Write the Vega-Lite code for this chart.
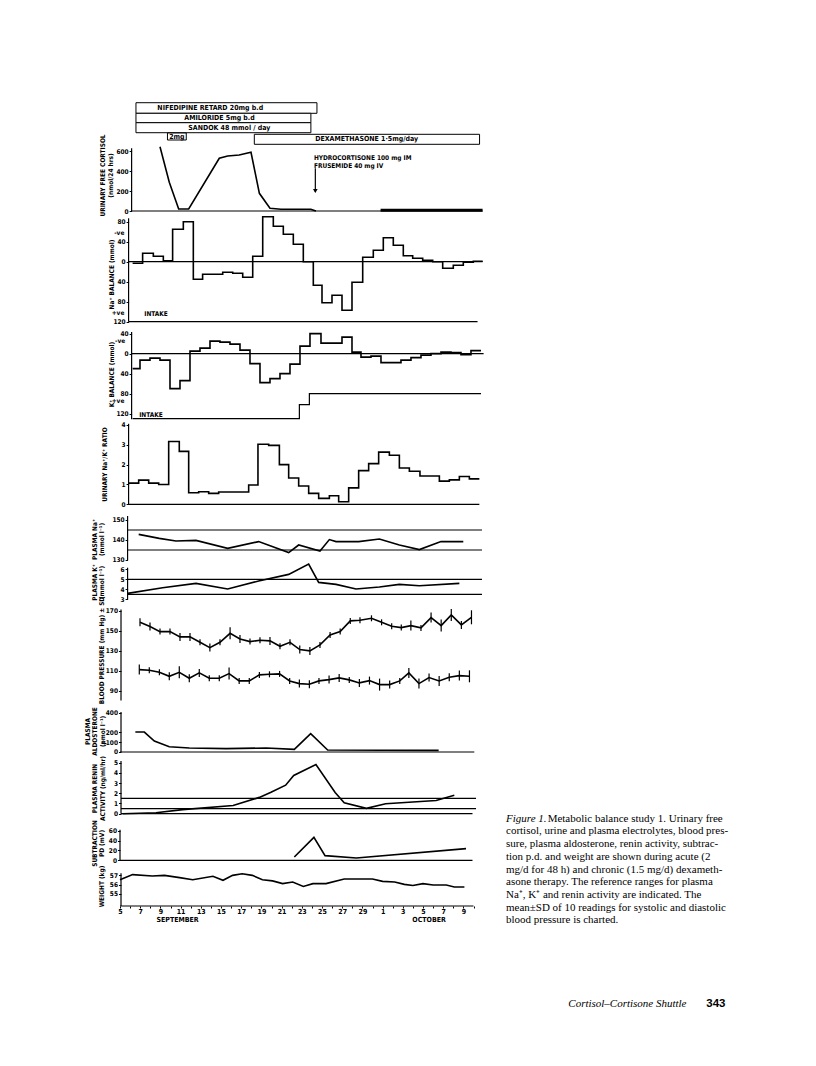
{
"$schema": "https://vega.github.io/schema/vega-lite/v6.json",
"background": "white",
"padding": {"left": 84, "top": 102, "right": 5, "bottom": 5},
"spacing": 0,
"bounds": "flush",
"datasets": {
"drug": [
 {"k":"box","d":6.58,"d2":24.5,"v":0.07,"v2":1.13},
 {"k":"box","d":6.58,"d2":23.9,"v":1.13,"v2":2.07},
 {"k":"box","d":6.58,"d2":23.9,"v":2.07,"v2":3.07},
 {"k":"box","d":9.7,"d2":11.56,"v":3.1,"v2":3.8},
 {"k":"box","d":18.3,"d2":40.6,"v":3.23,"v2":4.23},
 {"k":"t","d":8.7,"v":0.6,"t":"NIFEDIPINE RETARD 20mg b.d"},
 {"k":"t","d":11.37,"v":1.6,"t":"AMILORIDE 5mg b.d"},
 {"k":"t","d":11.76,"v":2.57,"t":"SANDOK 48 mmol / day"},
 {"k":"tc","d":10.63,"v":3.45,"t":"2mg"},
 {"k":"t","d":24.33,"v":3.73,"t":"DEXAMETHASONE 1·5mg/day"}
],
"cort": [
 {"k":"ax","d":6.15,"v":0,"v2":627},
 {"k":"base","d":6.15,"d2":40.9,"v":0},
 {"k":"l","d":8.96,"v":643},{"k":"l","d":9.88,"v":287},{"k":"l","d":10.81,"v":20},{"k":"l","d":11.8,"v":20},
 {"k":"l","d":14.83,"v":527},{"k":"l","d":15.66,"v":550},{"k":"l","d":16.8,"v":560},{"k":"l","d":17.97,"v":587},
 {"k":"l","d":18.8,"v":177},{"k":"l","d":19.85,"v":27},{"k":"l","d":20.94,"v":17},{"k":"l","d":22.76,"v":17},
 {"k":"l","d":23.9,"v":17},{"k":"l","d":24.4,"v":0},
 {"k":"b","d":30.8,"v":8},{"k":"b","d":40.9,"v":8},
 {"k":"arrow","d":24.34,"v":427,"v2":190},
 {"k":"head","d":24.34,"v":200},
 {"k":"t","d":24.2,"v":527,"t":"HYDROCORTISONE 100 mg IM"},
 {"k":"t","d":24.2,"v":453,"t":"FRUSEMIDE 40 mg IV"}
],
"na": [
 {"k":"ax","d":5.85,"v":-120,"v2":86.8},
 {"k":"base","d":5.85,"d2":40.9,"v":0},
 {"k":"base","d":5.85,"d2":40.4,"v":-120},
 {"k":"s","d":6.25,"v":-3},{"k":"s","d":7.24,"v":17},{"k":"s","d":8.3,"v":11},{"k":"s","d":9.29,"v":2},
 {"k":"s","d":10.21,"v":65},{"k":"s","d":11.27,"v":80},{"k":"s","d":12.26,"v":-35},{"k":"s","d":13.18,"v":-25},
 {"k":"s","d":14.17,"v":-25},{"k":"s","d":15.17,"v":-21},{"k":"s","d":16.16,"v":-23},{"k":"s","d":17.15,"v":-31},
 {"k":"s","d":18.14,"v":11},{"k":"s","d":19.13,"v":90},{"k":"s","d":20.18,"v":71},{"k":"s","d":21.17,"v":55},
 {"k":"s","d":22.16,"v":35},{"k":"s","d":23.15,"v":0},{"k":"s","d":24.14,"v":-47},{"k":"s","d":25.0,"v":-82},
 {"k":"s","d":25.99,"v":-67},{"k":"s","d":26.98,"v":-97},{"k":"s","d":27.97,"v":-41},{"k":"s","d":29.03,"v":9},
 {"k":"s","d":30.08,"v":23},{"k":"s","d":31.07,"v":48},{"k":"s","d":32.06,"v":33},{"k":"s","d":33.05,"v":12},
 {"k":"s","d":33.98,"v":7},{"k":"s","d":34.97,"v":3},{"k":"s","d":35.96,"v":0},{"k":"s","d":36.95,"v":-13},
 {"k":"s","d":38.0,"v":-7},{"k":"s","d":38.99,"v":-1},{"k":"s","d":39.98,"v":1},{"k":"s","d":40.91,"v":1},
 {"k":"lab","d":5.43,"v":58,"t":"-ve"},
 {"k":"lab","d":5.43,"v":-102,"t":"+ve"},
 {"k":"t","d":7.4,"v":-105,"t":"INTAKE"}
],
"k": [
 {"k":"ax","d":6.15,"v":-131.4,"v2":43.2},
 {"k":"base","d":6.15,"d2":41.0,"v":0},
 {"k":"in","d":6.25,"v":-130},{"k":"in","d":22.76,"v":-102},{"k":"in","d":23.75,"v":-80},{"k":"in","d":40.74,"v":-80},
 {"k":"s","d":6.25,"v":-30},{"k":"s","d":6.98,"v":-13},{"k":"s","d":7.97,"v":-9},{"k":"s","d":8.96,"v":-13},
 {"k":"s","d":9.95,"v":-70},{"k":"s","d":10.94,"v":-54},{"k":"s","d":11.93,"v":5},{"k":"s","d":12.92,"v":11},
 {"k":"s","d":13.91,"v":25},{"k":"s","d":14.9,"v":23},{"k":"s","d":15.89,"v":19},{"k":"s","d":16.88,"v":7},
 {"k":"s","d":17.87,"v":-20},{"k":"s","d":18.86,"v":-58},{"k":"s","d":19.85,"v":-50},{"k":"s","d":20.84,"v":-40},
 {"k":"s","d":21.83,"v":-21},{"k":"s","d":22.82,"v":15},{"k":"s","d":23.81,"v":40},{"k":"s","d":24.9,"v":21},
 {"k":"s","d":25.99,"v":21},{"k":"s","d":26.98,"v":33},{"k":"s","d":27.97,"v":3},{"k":"s","d":28.86,"v":-7},
 {"k":"s","d":29.85,"v":-5},{"k":"s","d":30.84,"v":-18},{"k":"s","d":31.83,"v":-18},{"k":"s","d":32.82,"v":-13},
 {"k":"s","d":33.81,"v":-8},{"k":"s","d":34.8,"v":-3},{"k":"s","d":35.79,"v":0},{"k":"s","d":36.78,"v":3},
 {"k":"s","d":37.77,"v":2},{"k":"s","d":38.76,"v":-2},{"k":"s","d":39.75,"v":6},{"k":"s","d":40.74,"v":6},
 {"k":"lab","d":5.52,"v":25,"t":"-ve"},
 {"k":"lab","d":5.43,"v":-95,"t":"+ve"},
 {"k":"t","d":6.9,"v":-122,"t":"INTAKE"}
],
"ratio": [
 {"k":"ax","d":5.85,"v":0,"v2":4.06},
 {"k":"base","d":5.85,"d2":40.58,"v":0},
 {"k":"s","d":5.86,"v":1.07},{"k":"s","d":6.85,"v":1.22},{"k":"s","d":7.84,"v":1.07},{"k":"s","d":8.83,"v":1.0},
 {"k":"s","d":9.82,"v":3.17},{"k":"s","d":10.87,"v":2.67},{"k":"s","d":11.8,"v":0.58},{"k":"s","d":12.79,"v":0.63},
 {"k":"s","d":13.78,"v":0.55},{"k":"s","d":14.77,"v":0.62},{"k":"s","d":15.76,"v":0.62},{"k":"s","d":16.75,"v":0.62},
 {"k":"s","d":17.74,"v":0.97},{"k":"s","d":18.66,"v":3.03},{"k":"s","d":19.72,"v":2.97},{"k":"s","d":20.78,"v":2.0},
 {"k":"s","d":21.7,"v":1.33},{"k":"s","d":22.69,"v":0.92},{"k":"s","d":23.68,"v":0.55},{"k":"s","d":24.67,"v":0.3},
 {"k":"s","d":25.73,"v":0.43},{"k":"s","d":26.65,"v":0.13},{"k":"s","d":27.64,"v":0.83},{"k":"s","d":28.63,"v":1.7},
 {"k":"s","d":29.62,"v":2.05},{"k":"s","d":30.61,"v":2.63},{"k":"s","d":31.67,"v":2.47},{"k":"s","d":32.66,"v":1.83},
 {"k":"s","d":33.65,"v":1.67},{"k":"s","d":34.7,"v":1.43},{"k":"s","d":35.69,"v":1.43},{"k":"s","d":36.62,"v":1.17},
 {"k":"s","d":37.61,"v":1.23},{"k":"s","d":38.6,"v":1.4},{"k":"s","d":39.59,"v":1.28},{"k":"s","d":40.58,"v":1.28}
],
"pna": [
 {"k":"ax","d":5.75,"v":130,"v2":152},
 {"k":"base","d":5.75,"d2":40.84,"v":145},
 {"k":"base","d":5.75,"d2":40.84,"v":135},
 {"k":"l","d":6.85,"v":142.8},{"k":"l","d":8.89,"v":140.8},{"k":"l","d":10.54,"v":139.5},{"k":"l","d":12.52,"v":139.8},
 {"k":"l","d":15.66,"v":135.8},{"k":"l","d":18.73,"v":139.2},{"k":"l","d":21.7,"v":133.7},{"k":"l","d":22.69,"v":137.5},
 {"k":"l","d":24.8,"v":134.5},{"k":"l","d":25.73,"v":140.2},{"k":"l","d":26.39,"v":139.2},{"k":"l","d":28.63,"v":139.2},
 {"k":"l","d":30.68,"v":140.5},{"k":"l","d":32.66,"v":137.5},{"k":"l","d":34.64,"v":135.2},{"k":"l","d":36.78,"v":139.2},
 {"k":"l","d":38.99,"v":139.2}
],
"pk": [
 {"k":"ax","d":5.75,"v":3,"v2":6.17},
 {"k":"base","d":5.75,"d2":40.84,"v":5.0},
 {"k":"base","d":5.75,"d2":40.84,"v":3.5},
 {"k":"l","d":5.76,"v":3.6},{"k":"l","d":9.22,"v":4.17},{"k":"l","d":12.52,"v":4.6},{"k":"l","d":15.66,"v":4.04},
 {"k":"l","d":18.73,"v":4.84},{"k":"l","d":21.7,"v":5.5},{"k":"l","d":23.68,"v":6.54},{"k":"l","d":24.67,"v":4.7},
 {"k":"l","d":26.39,"v":4.5},{"k":"l","d":28.37,"v":4.04},{"k":"l","d":30.68,"v":4.24},{"k":"l","d":32.66,"v":4.5},
 {"k":"l","d":34.64,"v":4.37},{"k":"l","d":38.6,"v":4.6}
],
"bp": [
 {"k":"ax","d":5.1,"v":80,"v2":171},
 {"k":"p","s":"sys","d":6.98,"v":158.3,"e":4},{"k":"p","s":"sys","d":7.97,"v":154,"e":4},{"k":"p","s":"sys","d":8.96,"v":149,"e":3},
 {"k":"p","s":"sys","d":9.95,"v":149,"e":3},{"k":"p","s":"sys","d":10.94,"v":143.7,"e":4},{"k":"p","s":"sys","d":11.93,"v":143.7,"e":4},
 {"k":"p","s":"sys","d":12.92,"v":138.3,"e":3},{"k":"p","s":"sys","d":13.9,"v":133,"e":4},{"k":"p","s":"sys","d":14.9,"v":138.3,"e":3},
 {"k":"p","s":"sys","d":15.9,"v":147.3,"e":6},{"k":"p","s":"sys","d":16.88,"v":141.7,"e":4},{"k":"p","s":"sys","d":17.87,"v":139,"e":3},
 {"k":"p","s":"sys","d":18.86,"v":140.3,"e":3},{"k":"p","s":"sys","d":19.85,"v":139.7,"e":4},{"k":"p","s":"sys","d":20.84,"v":134.3,"e":3},
 {"k":"p","s":"sys","d":21.83,"v":138.3,"e":3},{"k":"p","s":"sys","d":22.8,"v":131,"e":4},{"k":"p","s":"sys","d":23.8,"v":129.7,"e":4},
 {"k":"p","s":"sys","d":24.8,"v":135.7,"e":3},{"k":"p","s":"sys","d":25.8,"v":145.7,"e":3},{"k":"p","s":"sys","d":26.8,"v":149,"e":3},
 {"k":"p","s":"sys","d":27.8,"v":159.7,"e":3},{"k":"p","s":"sys","d":28.76,"v":160.3,"e":3},{"k":"p","s":"sys","d":29.9,"v":162.3,"e":3},
 {"k":"p","s":"sys","d":30.9,"v":158.3,"e":3},{"k":"p","s":"sys","d":31.9,"v":154.3,"e":3},{"k":"p","s":"sys","d":32.85,"v":153,"e":3},
 {"k":"p","s":"sys","d":33.8,"v":155,"e":5},{"k":"p","s":"sys","d":34.8,"v":152.7,"e":3},{"k":"p","s":"sys","d":35.8,"v":163,"e":5},
 {"k":"p","s":"sys","d":36.8,"v":155,"e":6},{"k":"p","s":"sys","d":37.8,"v":165.7,"e":6},{"k":"p","s":"sys","d":38.8,"v":155.7,"e":4},
 {"k":"p","s":"sys","d":39.8,"v":163.3,"e":7},
 {"k":"p","s":"dia","d":6.91,"v":111,"e":5},{"k":"p","s":"dia","d":7.9,"v":110.3,"e":3},{"k":"p","s":"dia","d":8.9,"v":108.3,"e":3},
 {"k":"p","s":"dia","d":9.88,"v":104.3,"e":4},{"k":"p","s":"dia","d":10.87,"v":108.3,"e":6},{"k":"p","s":"dia","d":11.86,"v":102.3,"e":4},
 {"k":"p","s":"dia","d":12.85,"v":107.7,"e":4},{"k":"p","s":"dia","d":13.84,"v":102.3,"e":3},{"k":"p","s":"dia","d":14.83,"v":102.3,"e":3},
 {"k":"p","s":"dia","d":15.8,"v":107,"e":6},{"k":"p","s":"dia","d":16.8,"v":99.7,"e":3},{"k":"p","s":"dia","d":17.8,"v":99.7,"e":3},
 {"k":"p","s":"dia","d":18.8,"v":105.7,"e":3},{"k":"p","s":"dia","d":19.8,"v":106.3,"e":3},{"k":"p","s":"dia","d":20.8,"v":106.7,"e":3},
 {"k":"p","s":"dia","d":21.8,"v":99.7,"e":3},{"k":"p","s":"dia","d":22.76,"v":97,"e":4},{"k":"p","s":"dia","d":23.75,"v":96.3,"e":4},
 {"k":"p","s":"dia","d":24.7,"v":99.7,"e":3},{"k":"p","s":"dia","d":25.7,"v":101,"e":4},{"k":"p","s":"dia","d":26.7,"v":102.7,"e":4},
 {"k":"p","s":"dia","d":27.7,"v":100.7,"e":3},{"k":"p","s":"dia","d":28.7,"v":97.7,"e":4},{"k":"p","s":"dia","d":29.7,"v":100,"e":4},
 {"k":"p","s":"dia","d":30.7,"v":96,"e":6},{"k":"p","s":"dia","d":31.7,"v":96,"e":4},{"k":"p","s":"dia","d":32.7,"v":99.7,"e":3},
 {"k":"p","s":"dia","d":33.6,"v":107.7,"e":5},{"k":"p","s":"dia","d":34.6,"v":97,"e":5},{"k":"p","s":"dia","d":35.6,"v":103,"e":4},
 {"k":"p","s":"dia","d":36.6,"v":99.7,"e":5},{"k":"p","s":"dia","d":37.6,"v":103.3,"e":4},{"k":"p","s":"dia","d":38.6,"v":105,"e":5},
 {"k":"p","s":"dia","d":39.6,"v":104.3,"e":6}
],
"aldo": [
 {"k":"ax","d":5.1,"v":0,"v2":407},
 {"k":"base","d":5.0,"d2":40.08,"v":0},
 {"k":"l","d":6.52,"v":203},{"k":"l","d":7.41,"v":203},{"k":"l","d":8.4,"v":112},{"k":"l","d":9.88,"v":54},
 {"k":"l","d":11.86,"v":41},{"k":"l","d":15.5,"v":34},{"k":"l","d":19.46,"v":41},{"k":"l","d":22.26,"v":27},
 {"k":"l","d":23.88,"v":186},{"k":"l","d":25.56,"v":20},{"k":"l","d":36.55,"v":17}
],
"renin": [
 {"k":"ax","d":5.1,"v":0,"v2":5.17},
 {"k":"base","d":5.1,"d2":39.9,"v":0},
 {"k":"base","d":5.1,"d2":40.25,"v":1.5},
 {"k":"base","d":5.1,"d2":40.25,"v":0.5},
 {"k":"l","d":5.26,"v":0.0},{"k":"l","d":8.56,"v":0.1},{"k":"l","d":11.2,"v":0.4},{"k":"l","d":16.2,"v":0.8},
 {"k":"l","d":18.8,"v":1.6},{"k":"l","d":19.95,"v":2.1},{"k":"l","d":21.4,"v":2.8},{"k":"l","d":22.2,"v":3.75},
 {"k":"l","d":24.4,"v":4.83},{"k":"l","d":26.3,"v":2.08},{"k":"l","d":27.2,"v":1.08},{"k":"l","d":29.4,"v":0.52},
 {"k":"l","d":31.3,"v":0.98},{"k":"l","d":36.3,"v":1.3},{"k":"l","d":38.1,"v":1.8}
],
"pd": [
 {"k":"ax","d":5.0,"v":0,"v2":62},
 {"k":"base","d":5.0,"d2":39.9,"v":0},
 {"k":"l","d":22.26,"v":6.8},{"k":"l","d":24.2,"v":46.6},{"k":"l","d":25.3,"v":9.5},{"k":"l","d":28.4,"v":4.7},{"k":"l","d":39.26,"v":23.6}
],
"wt": [
 {"k":"ax","d":5.1,"v":53.67,"v2":57.24},
 {"k":"base","d":5.0,"d2":40.0,"v":53.67},
 {"k":"l","d":5.0,"v":56.53},{"k":"l","d":6.25,"v":57.08},{"k":"l","d":8.2,"v":56.93},{"k":"l","d":9.4,"v":57.0},
 {"k":"l","d":10.9,"v":56.75},{"k":"l","d":12.2,"v":56.53},{"k":"l","d":14.2,"v":56.9},{"k":"l","d":15.2,"v":56.46},
 {"k":"l","d":16.15,"v":57.0},{"k":"l","d":17.1,"v":57.18},{"k":"l","d":18.1,"v":57.0},{"k":"l","d":19.1,"v":56.53},
 {"k":"l","d":20.1,"v":56.4},{"k":"l","d":21.1,"v":56.1},{"k":"l","d":22.1,"v":56.28},{"k":"l","d":23.15,"v":55.8},
 {"k":"l","d":24.1,"v":56.1},{"k":"l","d":25.4,"v":56.1},{"k":"l","d":27.2,"v":56.6},{"k":"l","d":30.0,"v":56.6},
 {"k":"l","d":31.0,"v":56.35},{"k":"l","d":32.2,"v":56.28},{"k":"l","d":33.15,"v":56.02},{"k":"l","d":34.0,"v":55.9},
 {"k":"l","d":35.0,"v":56.1},{"k":"l","d":36.0,"v":55.95},{"k":"l","d":37.3,"v":55.95},{"k":"l","d":38.1,"v":55.73},
 {"k":"l","d":39.1,"v":55.73},
 {"k":"m","d":10.7,"v":52.2,"t":"SEPTEMBER"},
 {"k":"m","d":35.6,"v":52.2,"t":"OCTOBER"}
],
"cap": [
 {"f":"i","line":1,"d":43.22,"t":"Figure 1."},
 {"f":"n","line":1,"d":47.34,"t":"Metabolic balance study 1. Urinary free"},
 {"f":"n","line":2,"d":43.22,"t":"cortisol, urine and plasma electrolytes, blood pres-"},
 {"f":"n","line":3,"d":43.22,"t":"sure, plasma aldosterone, renin activity, subtrac-"},
 {"f":"n","line":4,"d":43.22,"t":"tion p.d. and weight are shown during acute (2"},
 {"f":"n","line":5,"d":43.22,"t":"mg/d for 48 h) and chronic (1.5 mg/d) dexameth-"},
 {"f":"n","line":6,"d":43.22,"t":"asone therapy. The reference ranges for plasma"},
 {"f":"n","line":7,"d":43.22,"t":"Na⁺, K⁺ and renin activity are indicated. The"},
 {"f":"n","line":8,"d":43.22,"t":"mean±SD of 10 readings for systolic and diastolic"},
 {"f":"n","line":9,"d":43.22,"t":"blood pressure is charted."},
 {"f":"i","line":15.56,"d":49.39,"t":"Cortisol–Cortisone Shuttle"},
 {"f":"b","line":15.56,"d":63.05,"t":"343"}
]
},
"vconcat": [
 {
  "width": 363.6, "height": 43,
  "data": {"name": "drug"},
  "encoding": {
   "x": {"field":"d","type":"quantitative","scale":{"domain":[5,41],"nice":false,"zero":false},"axis":null},
   "y": {"field":"v","type":"quantitative","scale":{"domain":[0,4.3],"reverse":true,"nice":false,"zero":false},"axis":null}
  },
  "layer": [
   {"transform":[{"filter":"datum.k=='box'"}],"mark":{"type":"rect","fill":"white","stroke":"black","strokeWidth":1},"encoding":{"x2":{"field":"d2"},"y2":{"field":"v2"}}},
   {"transform":[{"filter":"datum.k=='t'"}],"mark":{"type":"text","align":"left","baseline":"middle","fontSize":7,"color":"black"},"encoding":{"text":{"field":"t"}}},
   {"transform":[{"filter":"datum.k=='tc'"}],"mark":{"type":"text","align":"center","baseline":"middle","fontSize":7,"color":"black"},"encoding":{"text":{"field":"t"}}}
  ]
 },
 {
  "width": 363.6, "height": 66,
  "data": {"name": "cort"},
  "encoding": {
   "x": {"field":"d","type":"quantitative","scale":{"domain":[5,41],"nice":false,"zero":false},"axis":null},
   "y": {"field":"v","type":"quantitative","scale":{"domain":[0,660],"nice":false,"zero":false},
         "axis":{"values":[0,200,400,600],"offset":-11.6,"title":["URINARY FREE CORTISOL","(nmol/24 hrs)"],"titleX":-25.6,"titleY":30}}
  },
  "layer": [
   {"transform":[{"filter":"datum.k=='ax'"}],"mark":{"type":"rule"},"encoding":{"y2":{"field":"v2"}}},
   {"transform":[{"filter":"datum.k=='base'"}],"mark":{"type":"rule"},"encoding":{"x2":{"field":"d2"}}},
   {"transform":[{"filter":"datum.k=='l'"}],"mark":{"type":"line","strokeWidth":1.6}},
   {"transform":[{"filter":"datum.k=='b'"}],"mark":{"type":"line","strokeWidth":3}},
   {"transform":[{"filter":"datum.k=='arrow'"}],"mark":{"type":"rule","strokeWidth":1.2},"encoding":{"y2":{"field":"v2"}}},
   {"transform":[{"filter":"datum.k=='head'"}],"mark":{"type":"point","shape":"triangle-down","filled":true,"color":"black","size":22,"opacity":1}},
   {"transform":[{"filter":"datum.k=='t'"}],"mark":{"type":"text","align":"left","baseline":"middle","fontSize":6.5,"color":"black"},"encoding":{"text":{"field":"t"}}}
  ]
 },
 {
  "width": 363.6, "height": 110.7,
  "data": {"name": "na"},
  "encoding": {
   "x": {"field":"d","type":"quantitative","scale":{"domain":[5,41],"nice":false,"zero":false},"axis":null},
   "y": {"field":"v","type":"quantitative","scale":{"domain":[-120,101.4],"nice":false,"zero":false},
         "axis":{"values":[-120,-80,-40,0,40,80],"labelExpr":"'' + abs(datum.value)","offset":-8.6,"title":"Na⁺ BALANCE (mmol)","titleX":-14.3,"titleY":63}}
  },
  "layer": [
   {"transform":[{"filter":"datum.k=='ax'"}],"mark":{"type":"rule"},"encoding":{"y2":{"field":"v2"}}},
   {"transform":[{"filter":"datum.k=='base'"}],"mark":{"type":"rule"},"encoding":{"x2":{"field":"d2"}}},
   {"transform":[{"filter":"datum.k=='s'"}],"mark":{"type":"line","interpolate":"step-after","strokeWidth":1.6}},
   {"transform":[{"filter":"datum.k=='lab'"}],"mark":{"type":"text","align":"right","baseline":"middle","fontSize":6.5,"color":"black"},"encoding":{"text":{"field":"t"}}},
   {"transform":[{"filter":"datum.k=='t'"}],"mark":{"type":"text","align":"left","baseline":"middle","fontSize":6.5,"color":"black"},"encoding":{"text":{"field":"t"}}}
  ]
 },
 {
  "width": 363.6, "height": 97.3,
  "data": {"name": "k"},
  "encoding": {
   "x": {"field":"d","type":"quantitative","scale":{"domain":[5,41],"nice":false,"zero":false},"axis":null},
   "y": {"field":"v","type":"quantitative","scale":{"domain":[-131.4,63.2],"nice":false,"zero":false},
         "axis":{"values":[-120,-80,-40,0,40],"labelExpr":"'' + abs(datum.value)","offset":-11.6,"title":"K⁺ BALANCE (mmol)","titleX":-17.3,"titleY":52}}
  },
  "layer": [
   {"transform":[{"filter":"datum.k=='ax'"}],"mark":{"type":"rule"},"encoding":{"y2":{"field":"v2"}}},
   {"transform":[{"filter":"datum.k=='base'"}],"mark":{"type":"rule"},"encoding":{"x2":{"field":"d2"}}},
   {"transform":[{"filter":"datum.k=='in'"}],"mark":{"type":"line","interpolate":"step-after","strokeWidth":1.2}},
   {"transform":[{"filter":"datum.k=='s'"}],"mark":{"type":"line","interpolate":"step-after","strokeWidth":1.6}},
   {"transform":[{"filter":"datum.k=='lab'"}],"mark":{"type":"text","align":"right","baseline":"middle","fontSize":6.5,"color":"black"},"encoding":{"text":{"field":"t"}}},
   {"transform":[{"filter":"datum.k=='t'"}],"mark":{"type":"text","align":"left","baseline":"middle","fontSize":6.5,"color":"black"},"encoding":{"text":{"field":"t"}}}
  ]
 },
 {
  "width": 363.6, "height": 84.3,
  "data": {"name": "ratio"},
  "encoding": {
   "x": {"field":"d","type":"quantitative","scale":{"domain":[5,41],"nice":false,"zero":false},"axis":null},
   "y": {"field":"v","type":"quantitative","scale":{"domain":[0,4.251],"nice":false,"zero":false},
         "axis":{"values":[0,1,2,3,4],"offset":-8.6,"title":"URINARY Na⁺/K⁺ RATIO","titleX":-21.3,"titleY":44}}
  },
  "layer": [
   {"transform":[{"filter":"datum.k=='ax'"}],"mark":{"type":"rule"},"encoding":{"y2":{"field":"v2"}}},
   {"transform":[{"filter":"datum.k=='base'"}],"mark":{"type":"rule"},"encoding":{"x2":{"field":"d2"}}},
   {"transform":[{"filter":"datum.k=='s'"}],"mark":{"type":"line","interpolate":"step-after","strokeWidth":1.6}}
  ]
 },
 {
  "width": 363.6, "height": 55,
  "data": {"name": "pna"},
  "encoding": {
   "x": {"field":"d","type":"quantitative","scale":{"domain":[5,41],"nice":false,"zero":false},"axis":null},
   "y": {"field":"v","type":"quantitative","scale":{"domain":[130,157.5],"nice":false,"zero":false},
         "axis":{"values":[130,140,150],"offset":-7.6,"title":["PLASMA Na⁺","(mmol l⁻¹)"],"titleX":-30.3,"titleY":34}}
  },
  "layer": [
   {"transform":[{"filter":"datum.k=='ax'"}],"mark":{"type":"rule"},"encoding":{"y2":{"field":"v2"}}},
   {"transform":[{"filter":"datum.k=='base'"}],"mark":{"type":"rule"},"encoding":{"x2":{"field":"d2"}}},
   {"transform":[{"filter":"datum.k=='l'"}],"mark":{"type":"line","strokeWidth":1.6}}
  ]
 },
 {
  "width": 363.6, "height": 39.4,
  "data": {"name": "pk"},
  "encoding": {
   "x": {"field":"d","type":"quantitative","scale":{"domain":[5,41],"nice":false,"zero":false},"axis":null},
   "y": {"field":"v","type":"quantitative","scale":{"domain":[3,6.94],"nice":false,"zero":false},
         "axis":{"values":[3,4,5,6],"offset":-7.6,"title":["PLASMA K⁺","(mmol l⁻¹)"],"titleX":-30.3,"titleY":22}}
  },
  "layer": [
   {"transform":[{"filter":"datum.k=='ax'"}],"mark":{"type":"rule"},"encoding":{"y2":{"field":"v2"}}},
   {"transform":[{"filter":"datum.k=='base'"}],"mark":{"type":"rule"},"encoding":{"x2":{"field":"d2"}}},
   {"transform":[{"filter":"datum.k=='l'"}],"mark":{"type":"line","strokeWidth":1.6}}
  ]
 },
 {
  "width": 363.6, "height": 100.6,
  "data": {"name": "bp"},
  "encoding": {
   "x": {"field":"d","type":"quantitative","scale":{"domain":[5,41],"nice":false,"zero":false},"axis":null},
   "y": {"field":"v","type":"quantitative","scale":{"domain":[80,180.6],"nice":false,"zero":false},
         "axis":{"values":[90,110,130,150,170],"offset":-1,"title":"BLOOD PRESSURE (mm Hg) ± SD","titleX":-16.7,"titleY":50}}
  },
  "layer": [
   {"transform":[{"filter":"datum.k=='ax'"}],"mark":{"type":"rule"},"encoding":{"y2":{"field":"v2"}}},
   {"transform":[{"filter":"datum.k=='p'"}],"mark":{"type":"line","strokeWidth":1.6},"encoding":{"detail":{"field":"s"}}},
   {"transform":[{"filter":"datum.k=='p'"}],"mark":{"type":"errorbar","ticks":false,"rule":{"color":"black","strokeWidth":1.2}},"encoding":{"yError":{"field":"e"}}}
  ]
 },
 {
  "width": 363.6, "height": 51,
  "data": {"name": "aldo"},
  "encoding": {
   "x": {"field":"d","type":"quantitative","scale":{"domain":[5,41],"nice":false,"zero":false},"axis":null},
   "y": {"field":"v","type":"quantitative","scale":{"domain":[0,518.8],"nice":false,"zero":false},
         "axis":{"values":[0,100,200,400],"labelExpr":"datum.value == 100 ? '<100' : datum.label","offset":-1,"title":["PLASMA","ALDOSTERONE","(pmol l⁻¹)"],"titleX":-30.7,"titleY":30}}
  },
  "layer": [
   {"transform":[{"filter":"datum.k=='ax'"}],"mark":{"type":"rule"},"encoding":{"y2":{"field":"v2"}}},
   {"transform":[{"filter":"datum.k=='base'"}],"mark":{"type":"rule"},"encoding":{"x2":{"field":"d2"}}},
   {"transform":[{"filter":"datum.k=='l'"}],"mark":{"type":"line","strokeWidth":1.6}}
  ]
 },
 {
  "width": 363.6, "height": 61.7,
  "data": {"name": "renin"},
  "encoding": {
   "x": {"field":"d","type":"quantitative","scale":{"domain":[5,41],"nice":false,"zero":false},"axis":null},
   "y": {"field":"v","type":"quantitative","scale":{"domain":[0,6.049],"nice":false,"zero":false},
         "axis":{"values":[0,1,2,3,4,5],"offset":-1,"title":["PLASMA RENIN","ACTIVITY (ng/ml/hr)"],"titleX":-23.2,"titleY":36}}
  },
  "layer": [
   {"transform":[{"filter":"datum.k=='ax'"}],"mark":{"type":"rule"},"encoding":{"y2":{"field":"v2"}}},
   {"transform":[{"filter":"datum.k=='base'"}],"mark":{"type":"rule"},"encoding":{"x2":{"field":"d2"}}},
   {"transform":[{"filter":"datum.k=='l'"}],"mark":{"type":"line","strokeWidth":1.6}}
  ]
 },
 {
  "width": 363.6, "height": 46.3,
  "data": {"name": "pd"},
  "encoding": {
   "x": {"field":"d","type":"quantitative","scale":{"domain":[5,41],"nice":false,"zero":false},"axis":null},
   "y": {"field":"v","type":"quantitative","scale":{"domain":[0,93.9],"nice":false,"zero":false},
         "axis":{"values":[0,20,40,60],"offset":0,"title":["SUBTRACTION","PD (mV)"],"titleX":-22.7,"titleY":29}}
  },
  "layer": [
   {"transform":[{"filter":"datum.k=='ax'"}],"mark":{"type":"rule"},"encoding":{"y2":{"field":"v2"}}},
   {"transform":[{"filter":"datum.k=='base'"}],"mark":{"type":"rule"},"encoding":{"x2":{"field":"d2"}}},
   {"transform":[{"filter":"datum.k=='l'"}],"mark":{"type":"line","strokeWidth":1.6}}
  ]
 },
 {
  "width": 363.6, "height": 45,
  "resolve": {"scale": {"x": "independent", "y": "independent"}, "axis": {"x": "independent", "y": "independent"}},
  "layer": [
   {
    "data": {"name": "wt"},
    "encoding": {
     "x": {"field":"d","type":"quantitative","scale":{"domain":[5,41],"nice":false,"zero":false},
           "axis":{"orient":"bottom","values":[5,6,7,8,9,10,11,12,13,14,15,16,17,18,19,20,21,22,23,24,25,26,27,28,29,30,31,32,33,34,35,36,37,38,39,40],
                   "labelExpr":"datum.value % 2 == 1 ? '' + (datum.value > 30 ? datum.value - 30 : datum.value) : ''",
                   "title":null,"labelFontSize":7,"labelOverlap":false,"tickSize":2,"labelPadding":0}},
     "y": {"field":"v","type":"quantitative","scale":{"domain":[53.67,58.56],"nice":false,"zero":false},
           "axis":{"orient":"left","values":[55,56,57],"offset":-1,"title":"WEIGHT (kg)","titleX":-16.7,"titleY":25}}
    },
    "layer": [
     {"transform":[{"filter":"datum.k=='ax'"}],"mark":{"type":"rule"},"encoding":{"y2":{"field":"v2"}}},
     {"transform":[{"filter":"datum.k=='base'"}],"mark":{"type":"rule"},"encoding":{"x2":{"field":"d2"}}},
     {"transform":[{"filter":"datum.k=='l'"}],"mark":{"type":"line","strokeWidth":1.6}},
     {"transform":[{"filter":"datum.k=='m'"}],"mark":{"type":"text","align":"center","baseline":"middle","fontSize":7,"color":"black"},"encoding":{"text":{"field":"t"}}}
    ]
   },
   {
    "data": {"name": "cap"},
    "encoding": {
     "x": {"field":"d","type":"quantitative","scale":{"domain":[5,41],"nice":false,"zero":false},"axis":null},
     "y": {"field":"line","type":"quantitative","scale":{"domain":[4.33,7.87],"reverse":true,"nice":false,"zero":false},"axis":null},
     "text": {"field":"t"}
    },
    "layer": [
     {"transform":[{"filter":"datum.f=='i'"}],"mark":{"type":"text","align":"left","baseline":"middle","font":"Liberation Serif","fontWeight":"normal","fontStyle":"italic","fontSize":11,"color":"black"}},
     {"transform":[{"filter":"datum.f=='n'"}],"mark":{"type":"text","align":"left","baseline":"middle","font":"Liberation Serif","fontWeight":"normal","fontSize":11,"color":"black"}},
     {"transform":[{"filter":"datum.f=='b'"}],"mark":{"type":"text","align":"left","baseline":"middle","font":"Liberation Sans","fontWeight":"bold","fontSize":11.5,"color":"black"}}
    ]
   }
  ]
 }
],
"config": {
 "view": {"stroke": null},
 "axis": {"labelFont":"DejaVu Sans Condensed, Liberation Sans, sans-serif","labelFontSize":6.5,"labelFontWeight":"bold","labelColor":"black",
          "titleFont":"DejaVu Sans Condensed, Liberation Sans, sans-serif","titleFontSize":6.5,"titleFontWeight":"bold","titleColor":"black","titleLineHeight":7.5,
          "tickColor":"black","tickSize":2.5,"tickWidth":1,"domain":false,"grid":false,"labelPadding":1,"labelFlush":false},
 "line": {"color":"black","strokeWidth":1.6},
 "rule": {"color":"black","strokeWidth":1.2},
 "point": {"color":"black"},
 "text": {"font":"DejaVu Sans Condensed, Liberation Sans, sans-serif","fontWeight":"bold","fontSize":7,"color":"black"}
}
}
